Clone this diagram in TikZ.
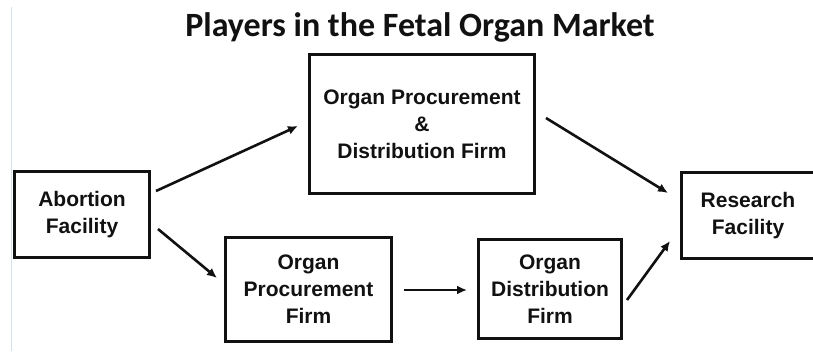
\documentclass[tikz,border=0pt]{standalone}
\usepackage{fontspec}
\setmainfont{Liberation Sans}
\newfontfamily\titlefont{Carlito}
\usetikzlibrary{arrows.meta,calc}
\definecolor{edgeblue}{HTML}{CFE3F0}
\definecolor{ink}{HTML}{111111}
\tikzset{
  player/.style={draw=ink, line width=3pt, rectangle, inner sep=0pt, align=center,
    text=ink, font=\bfseries\fontsize{21}{27}\selectfont},
  flow/.style={draw=ink, line width=2.6pt, -{Latex[length=10pt,width=9pt]}},
  titletext/.style={text=ink, font=\titlefont\bfseries\fontsize{34}{40}\selectfont, inner sep=0pt}
}
\begin{document}
\begin{tikzpicture}[x=1pt,y=-1pt]
\useasboundingbox[fill=white] (0,0) rectangle (813,351);
\draw[edgeblue, line width=1pt] (11,7) -- (11,351);
\node[titletext, anchor=base] (title) at (420,36) {Players in the Fetal Organ Market};
\node[player, minimum width=135pt, minimum height=86pt] (abort) at (82,214.5) {Abortion\\Facility};
\node[player, minimum width=225pt, minimum height=139pt] (top) at (422,124) {Organ Procurement\\\&\\Distribution Firm};
\node[player, minimum width=166pt, minimum height=104pt] (proc) at (308.5,289.5) {Organ\\Procurement\\Firm};
\node[player, minimum width=143pt, minimum height=99pt] (dist) at (550,289) {Organ\\Distribution\\Firm};
\node[player, minimum width=133pt, minimum height=86pt] (research) at (748,215.5) {Research\\Facility};
\draw[flow] ($(abort.north east)+(5,21)$) -- ($(top.west)+(-10,2)$);
\draw[flow] ($(abort.east)+(7,14.5)$) -- ($(proc.west)+(-7,-11.5)$);
\draw[flow] ($(top.east)+(10,-6)$) -- ($(research.west)+(-12,-22.5)$);
\draw[flow] ($(proc.east)+(11,0.5)$) -- ($(dist.west)+(-10,1)$);
\draw[flow] ($(dist.east)+(4,11)$) -- ($(research.west)+(-10,25.5)$);
\end{tikzpicture}
\end{document}
